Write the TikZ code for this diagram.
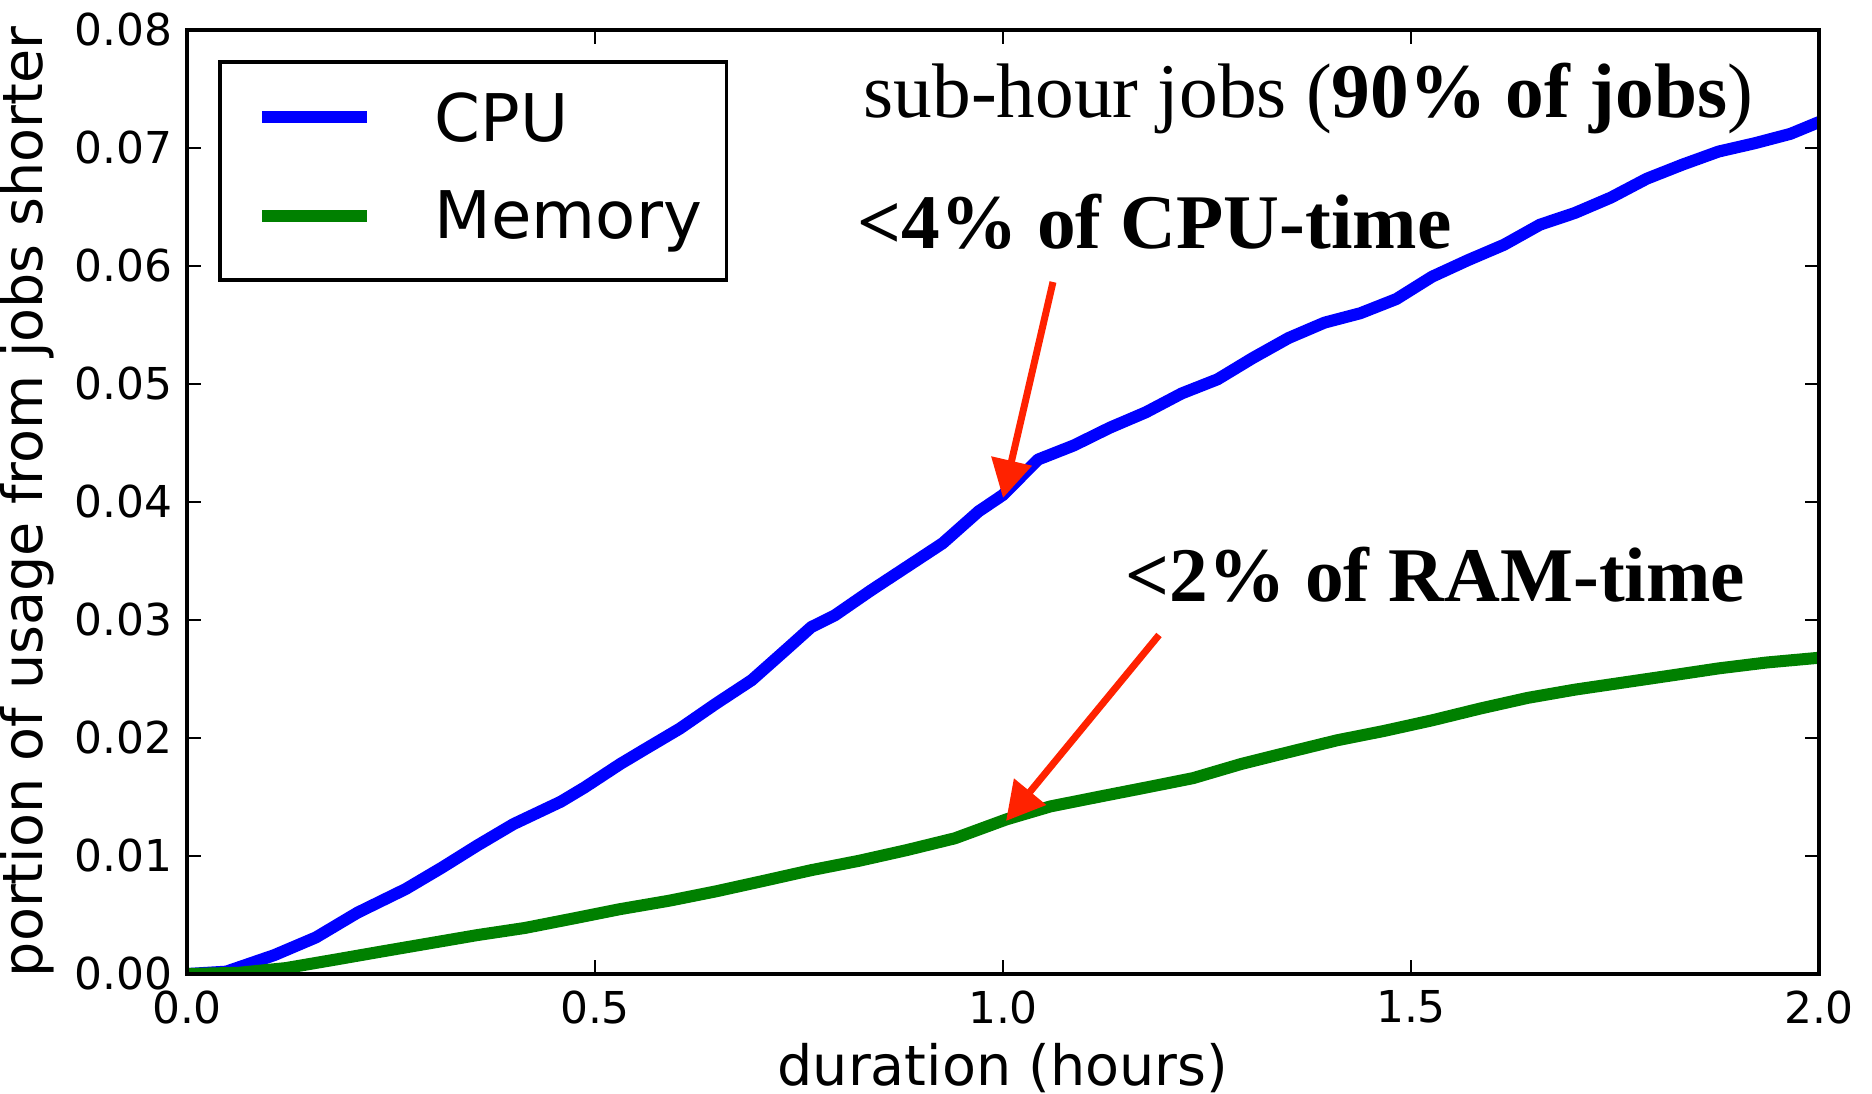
\documentclass[tikz,border=0pt]{standalone}
\usepackage{fontspec}
\setmainfont{Liberation Serif}
\newfontfamily\plotfont{DejaVu Sans}
\usetikzlibrary{arrows.meta}

\definecolor{cpublue}{RGB}{0,0,255}
\definecolor{memgreen}{RGB}{0,128,0}
\definecolor{notered}{RGB}{255,34,0}

\tikzset{
    frame/.style={line width=0.033cm},
    tick/.style={line width=0.02cm},
    ticklabel/.style={inner sep=0pt, font=\plotfont\fontsize{12.5}{15}\selectfont},
    axislabel/.style={inner sep=0pt, font=\plotfont\fontsize{15.8}{19}\selectfont},
    legendlabel/.style={inner sep=0pt, anchor=base west, font=\plotfont\fontsize{18.7}{22}\selectfont},
    note/.style={inner sep=0pt, anchor=base west, font=\fontsize{22}{26}\selectfont},
    boldnote/.style={note, font=\bfseries\fontsize{22}{26}\selectfont},
    curve/.style={line width=0.12cm, line join=round},
    pointer/.style={notered, line width=0.07cm, -{Triangle[length=0.38cm, width=0.40cm]}}
}

\begin{document}
\begin{tikzpicture}
    \useasboundingbox (0,0) rectangle (18.72,10.93);

    % data curves, clipped to the axes
    \begin{scope}
        \clip (1.87,1.19) rectangle (18.19,10.63);
        \begin{scope}[shift={(1.87,1.19)}, xscale=8.16, yscale=1.18]
            \draw [curve, cpublue] plot coordinates {(0,0) (0.048,0.02) (0.107,0.16) (0.158,0.31) (0.209,0.52) (0.268,0.72) (0.312,0.90) (0.356,1.09) (0.4,1.27) (0.458,1.46) (0.487,1.58) (0.531,1.78) (0.56,1.90) (0.604,2.08) (0.648,2.29) (0.692,2.49) (0.736,2.76) (0.765,2.94) (0.794,3.04) (0.838,3.25) (0.882,3.45) (0.926,3.65) (0.97,3.92) (1.0,4.06) (1.043,4.36) (1.087,4.48) (1.131,4.63) (1.175,4.76) (1.219,4.92) (1.263,5.04) (1.306,5.22) (1.35,5.39) (1.394,5.52) (1.438,5.60) (1.482,5.72) (1.526,5.91) (1.57,6.05) (1.614,6.18) (1.658,6.35) (1.701,6.45) (1.745,6.58) (1.789,6.74) (1.833,6.86) (1.877,6.97) (1.921,7.04) (1.965,7.12) (2.0,7.22)};
            \draw [curve, memgreen] plot coordinates {(0,0) (0.063,0.01) (0.121,0.05) (0.18,0.12) (0.238,0.19) (0.297,0.26) (0.356,0.33) (0.414,0.39) (0.473,0.47) (0.531,0.55) (0.59,0.62) (0.648,0.70) (0.707,0.79) (0.765,0.88) (0.824,0.96) (0.882,1.05) (0.941,1.15) (1.004,1.31) (1.058,1.42) (1.116,1.50) (1.175,1.58) (1.233,1.66) (1.292,1.78) (1.35,1.88) (1.409,1.98) (1.467,2.06) (1.526,2.15) (1.585,2.25) (1.643,2.34) (1.701,2.41) (1.76,2.47) (1.819,2.53) (1.877,2.59) (1.936,2.64) (2.0,2.68)};
        \end{scope}
    \end{scope}

    % axes box and ticks
    \draw [frame] (1.87,1.19) rectangle (18.19,10.63);
    \foreach \i in {0,...,8} {
        \draw [tick] (1.87,1.19+\i*1.18) -- ++(0.14,0);
        \draw [tick] (18.19,1.19+\i*1.18) -- ++(-0.14,0);
        \node [ticklabel, anchor=east] (ylab\i) at (1.735,1.19+\i*1.18) {0.0\i};
    }
    \foreach \x/\lab [count=\k] in {0/0.0, 0.5/0.5, 1/1.0, 1.5/1.5, 2/2.0} {
        \draw [tick] (1.87+\x*8.16,1.19) -- ++(0,0.14);
        \draw [tick] (1.87+\x*8.16,10.63) -- ++(0,-0.14);
        \node [ticklabel, anchor=north] (xlab\k) at (1.87+\x*8.16,1.03) {\lab};
    }

    \node [axislabel, anchor=base] (xtitle) at (10.03,0.08) {duration (hours)};
    \node [axislabel, anchor=base, rotate=90] (ytitle) at (0.43,5.91) {portion of usage from jobs shorter};

    % legend
    \draw [frame] (2.20,8.13) rectangle (7.265,10.31);
    \draw [cpublue, line width=0.12cm] (2.62,9.76) -- (3.67,9.76);
    \draw [memgreen, line width=0.12cm] (2.62,8.77) -- (3.67,8.77);
    \node [legendlabel] (cpukey) at (4.34,9.51) {CPU};
    \node [legendlabel] (memkey) at (4.34,8.54) {Memory};

    % notes
    \node [note] (subhour) at (8.63,9.75) {sub-hour jobs (\textbf{90\% of jobs})};
    \node [boldnote] (cpunote) at (8.57,8.45) {<4\% of CPU-time};
    \node [boldnote] (ramnote) at (11.25,4.92) {<2\% of RAM-time};

    \coordinate (cpufrom) at (10.53,8.11);
    \coordinate (cputo) at (10.03,5.95);
    \coordinate (ramfrom) at (11.59,4.58);
    \coordinate (ramto) at (10.06,2.72);
    \draw [pointer] (cpufrom) -- (cputo);
    \draw [pointer] (ramfrom) -- (ramto);
\end{tikzpicture}
\end{document}
